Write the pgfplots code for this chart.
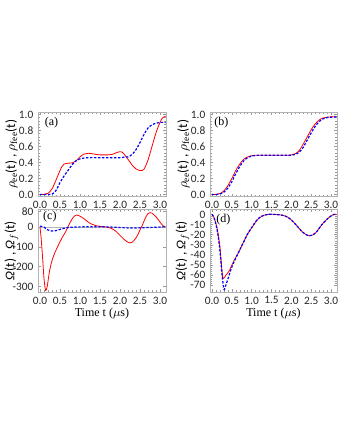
\documentclass[border=0pt]{standalone}
\usepackage{fontspec}
\setmainfont{Liberation Serif}
\newfontfamily\tickfont{Carlito}
\usepackage{pgfplots}
\pgfplotsset{compat=1.18}
\definecolor{cred}{HTML}{FF0000}
\definecolor{cblue}{HTML}{0000FF}
\newcommand{\ticksz}{\tickfont\fontsize{8.5}{9}\selectfont}
\newcommand{\labsz}{\tickfont\fontsize{10}{11}\selectfont}
\pgfplotsset{
  panel/.style={
    scale only axis,
    axis line style={black!30, line width=0.4pt},
    tick style={black!40, line width=0.35pt},
    major tick length=2.2pt, minor tick length=1.2pt,
    tick align=inside, tick pos=both,
    minor x tick num=4, minor y tick num=4,
    xmin=-0.05, xmax=3.15,
    xtick={0,0.5,1,1.5,2,2.5,3},
    xticklabel style={/pgf/number format/.cd, fixed, fixed zerofill, precision=1},
    tick label style={font=\ticksz, text=black!85},
    /pgf/number format/assume math mode=true,
    ylabel style={font=\labsz},
    ylabel shift=-6pt,
    xlabel style={font=\fontsize{9}{10}\selectfont},
    xlabel shift=-4pt,
    every axis plot/.append style={smooth},
  },
  redc/.style={cred, line width=0.6pt},
  bluec/.style={cblue, line width=0.9pt, dash pattern=on 1.8pt off 1.2pt},
}

\begin{document}
\begin{tikzpicture}
\useasboundingbox (0,0) rectangle (255pt,330pt);

% (a)
\begin{axis}[panel, at={(28.5pt,246pt)}, anchor=north west, width=96pt, height=63.4pt,
  ymin=-0.025, ymax=1.03, ytick={0,0.2,0.4,0.6,0.8,1},
  yticklabel style={/pgf/number format/.cd, fixed, fixed zerofill, precision=1},
  ylabel={$\rho_{\mathrm{ee}}$(t) , $\rho_{\mathrm{fee}}$(t)}]
\addplot[redc] coordinates {(0,0) (0.1,0.002) (0.2,0.015) (0.3,0.07) (0.4,0.18) (0.5,0.3) (0.55,0.35) (0.6,0.38) (0.7,0.39) (0.8,0.395) (0.9,0.42) (1.0,0.47) (1.1,0.505) (1.2,0.515) (1.3,0.51) (1.4,0.5) (1.5,0.495) (1.6,0.495) (1.7,0.495) (1.8,0.5) (1.9,0.52) (2.0,0.535) (2.05,0.53) (2.1,0.505) (2.2,0.44) (2.3,0.37) (2.4,0.32) (2.5,0.3) (2.55,0.3) (2.6,0.315) (2.7,0.43) (2.8,0.6) (2.9,0.77) (3.0,0.9) (3.07,0.96) (3.14,0.975)};
\addplot[bluec] coordinates {(0,0) (0.2,0) (0.3,0.005) (0.4,0.05) (0.5,0.15) (0.6,0.23) (0.7,0.3) (0.8,0.37) (0.9,0.42) (1.0,0.445) (1.1,0.455) (1.2,0.46) (1.6,0.46) (2.0,0.46) (2.1,0.465) (2.2,0.47) (2.3,0.5) (2.4,0.56) (2.5,0.65) (2.6,0.75) (2.7,0.83) (2.8,0.87) (2.9,0.89) (3.0,0.9) (3.14,0.9)};
\node[font=\fontsize{9}{10}\selectfont] at (rel axis cs:0.105,0.87) {(a)};
\end{axis}

% (b)
\begin{axis}[panel, at={(157.5pt,246pt)}, anchor=north west, width=95.25pt, height=63.4pt,
  ymin=-0.025, ymax=1.03, ytick={0,0.2,0.4,0.6,0.8,1},
  yticklabel style={/pgf/number format/.cd, fixed, fixed zerofill, precision=1},
  ylabel={$\rho_{\mathrm{ee}}$(t) , $\rho_{\mathrm{fee}}$(t)}]
\addplot[redc] coordinates {(0,0) (0.1,0.002) (0.2,0.012) (0.3,0.045) (0.4,0.11) (0.5,0.2) (0.6,0.3) (0.7,0.38) (0.8,0.44) (0.9,0.47) (1.0,0.485) (1.1,0.49) (1.2,0.49) (1.6,0.49) (1.9,0.49) (2.0,0.495) (2.1,0.51) (2.2,0.55) (2.3,0.63) (2.4,0.72) (2.5,0.81) (2.6,0.88) (2.7,0.93) (2.8,0.955) (2.9,0.965) (3.0,0.97) (3.14,0.97)};
\addplot[bluec] coordinates {(0,0) (0.1,0) (0.2,0.006) (0.3,0.03) (0.4,0.08) (0.5,0.16) (0.6,0.26) (0.7,0.35) (0.8,0.42) (0.9,0.46) (1.0,0.48) (1.1,0.488) (1.2,0.49) (1.6,0.49) (2.0,0.49) (2.1,0.5) (2.2,0.53) (2.3,0.59) (2.4,0.68) (2.5,0.77) (2.6,0.85) (2.7,0.91) (2.8,0.945) (2.9,0.96) (3.0,0.965) (3.14,0.97)};
\node[font=\fontsize{9}{10}\selectfont] at (rel axis cs:0.09,0.87) {(b)};
\end{axis}

% (c)
\begin{axis}[panel, at={(28.5pt,172.9pt)}, anchor=north west, width=96pt, height=61.9pt,
  ymin=-328, ymax=89, ytick={-300,-200,-100,0,80},
  ylabel={\textit{Ω}(t) , \textit{Ω}$_{f}$(t)}, ylabel shift=-11pt,
  xlabel={Time t ($\mu$s)}]
\addplot[black!30, line width=0.3pt, sharp plot, forget plot] coordinates {(-0.05,0) (3.15,0)};
\addplot[redc] coordinates {(0,0) (0.03,-60) (0.07,-170) (0.1,-260) (0.14,-320) (0.18,-300) (0.24,-220) (0.3,-170) (0.36,-135) (0.45,-95) (0.55,-55) (0.65,-20) (0.72,10) (0.8,40) (0.87,57) (0.92,61) (1.0,55) (1.1,42) (1.2,26) (1.3,14) (1.4,7) (1.5,4) (1.6,2) (1.7,-1) (1.8,-8) (1.9,-22) (2.0,-42) (2.1,-62) (2.2,-77) (2.25,-80) (2.3,-77) (2.4,-55) (2.5,-15) (2.55,5) (2.6,30) (2.65,52) (2.7,68) (2.75,73) (2.8,70) (2.9,52) (3.0,25) (3.07,8) (3.14,0)};
\addplot[bluec] coordinates {(0,5) (0.1,0) (0.2,-15) (0.3,-20) (0.4,-18) (0.5,-12) (0.6,-6) (0.7,-2) (1.0,1) (1.5,2) (2.0,-2) (2.3,-5) (2.6,-3) (3.0,0) (3.14,2)};
\node[font=\fontsize{9}{10}\selectfont] at (rel axis cs:0.093,0.91) {(c)};
\end{axis}

% (d)
\begin{axis}[panel, at={(157.5pt,172.9pt)}, anchor=north west, width=95.25pt, height=61.9pt,
  ymin=-76.6, ymax=4.9, ytick={-70,-60,-50,-40,-30,-20,-10,0},
  ylabel={\textit{Ω}(t) , \textit{Ω}$_{f}$(t)},
  xlabel={Time t ($\mu$s)}]
\addplot[redc] coordinates {(0,0) (0.05,-3) (0.1,-9) (0.15,-18) (0.2,-32) (0.24,-50) (0.27,-62) (0.3,-63) (0.35,-60) (0.43,-56) (0.55,-46) (0.65,-39) (0.75,-31) (0.85,-23) (0.95,-16) (1.06,-10) (1.15,-5) (1.27,-1.5) (1.4,0) (1.6,0) (1.8,-1) (1.9,-2.5) (2.0,-5.5) (2.1,-9.5) (2.2,-14) (2.3,-18) (2.4,-20.5) (2.46,-21) (2.55,-20) (2.64,-17) (2.75,-11) (2.89,-5) (3.0,-1.5) (3.07,0) (3.14,0)};
\addplot[bluec] coordinates {(0,0) (0.05,-3) (0.1,-10) (0.15,-20) (0.2,-36) (0.25,-58) (0.3,-74) (0.33,-72) (0.4,-64) (0.5,-52) (0.6,-43) (0.7,-35) (0.8,-27) (0.9,-19) (1.0,-13) (1.1,-7) (1.2,-3) (1.3,-1) (1.4,0) (1.6,0) (1.8,-1) (1.9,-2.5) (2.0,-5.5) (2.1,-9.5) (2.2,-14) (2.3,-18) (2.4,-20.5) (2.46,-21) (2.55,-20) (2.64,-17) (2.75,-11) (2.89,-5) (3.0,-1.5) (3.07,0) (3.14,0)};
\node[font=\fontsize{9}{10}\selectfont] at (rel axis cs:0.105,0.88) {(d)};
\end{axis}
\end{tikzpicture}
\end{document}
